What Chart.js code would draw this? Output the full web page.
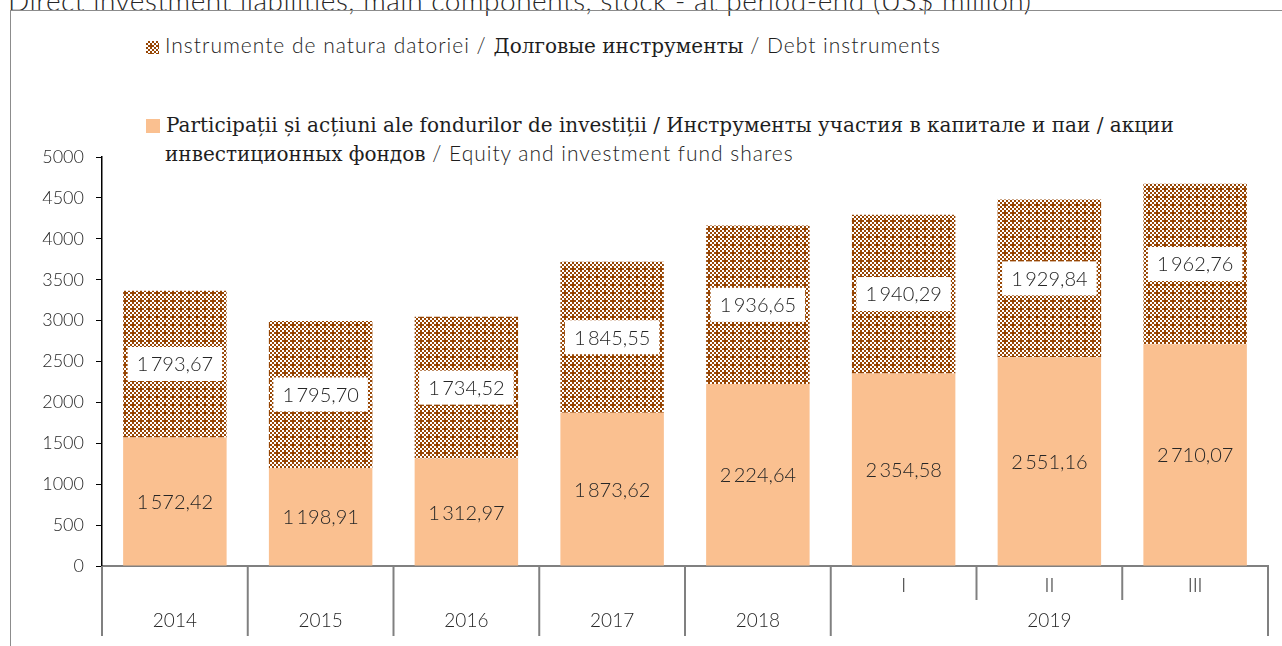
<!DOCTYPE html>
<html>
<head>
<meta charset="utf-8">
<script src="https://cdn.jsdelivr.net/npm/chart.js@4.4.1/dist/chart.umd.min.js"></script>
<style>
  body { margin: 0; width: 1282px; height: 646px; overflow: hidden; background: #fff; position: relative; }
  #title { position: absolute; left: 8px; top: -17px; font: 300 28px Lato, sans-serif; letter-spacing: 0.55px; color: #262626; white-space: nowrap; }
  #frame { position: absolute; left: 10px; top: 10px; width: 1400px; height: 800px; border-left: 1.5px solid #8c8c8c; border-top: 1.5px solid #8c8c8c; }
  #wrap { position: absolute; left: 0; top: 0; width: 1282px; height: 646px; }
  .leg { position: absolute; left: 146px; color: #1e1e1e; white-space: nowrap; line-height: 26px; }
  .sans { font-family: Lato, sans-serif; font-weight: 300; font-size: 21px; letter-spacing: 1px; }
  .serif { font-family: 'DejaVu Serif', serif; font-size: 20px; }
  .sw { display: inline-block; width: 13px; height: 13px; margin-right: 6px; vertical-align: -1px; }
</style>
</head>
<body>
<div id="title">Direct investment liabilities, main components, stock - at period-end (US$ million)</div>
<div id="frame"></div>
<div class="leg" style="top:32px"><canvas class="sw" id="sw1" width="13" height="13"></canvas><span class="sans">Instrumente de natura datoriei / </span><span class="serif">Долговые инструменты</span><span class="sans"> / Debt instruments</span></div>
<div class="leg" style="top:112px"><span class="sw" style="background:#fac090;width:14px;height:14px"></span><span class="serif">Participații și acțiuni ale fondurilor de investiții / Инструменты участия в капитале и паи / акции</span><br><span style="padding-left:19px" class="serif">инвестиционных фондов</span><span class="sans"> / Equity and investment fund shares</span></div>
<div id="wrap"><canvas id="c" width="1282" height="646"></canvas></div>
<script>
// Данные графика
const categories = ['2014', '2015', '2016', '2017', '2018', '2019-I', '2019-II', '2019-III'];
const quarterLabels = ['', '', '', '', '', 'I', 'II', 'III'];
const yearLabels = ['2014', '2015', '2016', '2017', '2018', '2019'];
const yearSpans = [1, 1, 1, 1, 1, 3];
const equity = [1572.42, 1198.91, 1312.97, 1873.62, 2224.64, 2354.58, 2551.16, 2710.07];
const debt = [1793.67, 1795.70, 1734.52, 1845.55, 1936.65, 1940.29, 1929.84, 1962.76];

const brown = '#974604';
const peach = '#fac090';
const textColor = '#262626';
const sansFont = 'Lato, sans-serif';

function makePattern() {
    const p = document.createElement('canvas');
    p.width = 8; p.height = 8;
    const g = p.getContext('2d');
    g.fillStyle = brown;
    g.fillRect(0, 0, 8, 8);
    g.fillStyle = '#ffffff';
    [[0,0],[4,0],[2,2],[6,2],[0,4],[2,6],[6,6]].forEach(([x, y]) => g.fillRect(x, y, 2, 2));
    return p;
}
const tile = makePattern();
const ctx = document.getElementById('c').getContext('2d');
const debtPattern = ctx.createPattern(tile, 'repeat');

// образец в легенде
const sw = document.getElementById('sw1').getContext('2d');
sw.fillStyle = sw.createPattern(tile, 'repeat');
sw.fillRect(0, 0, 13, 13);

function fmt(v) {
    const s = v.toFixed(2).split('.');
    const int = s[0].replace(/\B(?=(\d{3})+(?!\d))/g, '\u2009');
    return int + ',' + s[1];
}

const barLabels = {
    id: 'barLabels',
    afterDatasetsDraw(chart) {
        const c = chart.ctx;
        c.save();
        c.font = '300 20px ' + sansFont;
        c.textAlign = 'center';
        c.textBaseline = 'middle';
        chart.data.datasets.forEach((ds, di) => {
            const meta = chart.getDatasetMeta(di);
            meta.data.forEach((el, i) => {
                const txt = fmt(ds.data[i]);
                const cy = (el.y + el.base) / 2;
                if (di === 1) {
                    const w = c.measureText(txt).width + 18;
                    c.fillStyle = '#fff';
                    c.fillRect(el.x - w / 2, cy - 17, w, 34);
                }
                c.fillStyle = textColor;
                c.fillText(txt, el.x, cy + 1);
            });
        });
        c.restore();
    }
};

const groupAxis = {
    id: 'groupAxis',
    afterDraw(chart) {
        const c = chart.ctx;
        const xs = chart.scales.x;
        const area = chart.chartArea;
        const w = (area.right - area.left) / categories.length;
        c.save();
        c.strokeStyle = '#808080';
        c.lineWidth = 2;
        for (let i = 0; i <= categories.length; i++) {
            const x = area.left + i * w;
            const short = (i === 6 || i === 7);
            c.beginPath();
            c.moveTo(x, area.bottom);
            c.lineTo(x, area.bottom + (short ? 34 : 70));
            c.stroke();
        }
        c.fillStyle = textColor;
        c.font = '300 19px ' + sansFont;
        c.textAlign = 'center';
        c.textBaseline = 'middle';
        quarterLabels.forEach((q, i) => {
            if (q) c.fillText(q, xs.getPixelForValue(i), area.bottom + 20);
        });
        let start = 0;
        yearLabels.forEach((y, k) => {
            const x = area.left + (start + yearSpans[k] / 2) * w;
            c.fillText(y, x, area.bottom + 55);
            start += yearSpans[k];
        });
        c.restore();
    }
};

new Chart(ctx, {
    type: 'bar',
    data: {
        labels: categories,
        datasets: [
            { label: 'Equity and investment fund shares', data: equity, backgroundColor: peach,
              categoryPercentage: 1, barPercentage: 0.71 },
            { label: 'Debt instruments', data: debt, backgroundColor: debtPattern,
              categoryPercentage: 1, barPercentage: 0.71 }
        ]
    },
    options: {
        responsive: false,
        animation: false,
        layout: { padding: { left: 10, top: 157, right: 14, bottom: 0 } },
        plugins: { legend: { display: false }, tooltip: { enabled: false } },
        scales: {
            x: {
                stacked: true,
                ticks: { display: false },
                grid: { display: false },
                border: { color: '#808080', width: 2 },
                afterFit(s) { s.height = 80; }
            },
            y: {
                stacked: true,
                min: 0, max: 5000,
                ticks: { stepSize: 500, color: textColor, font: { family: sansFont, size: 18, weight: 300 }, padding: 12,
                         callback: v => String(v) },
                grid: { drawOnChartArea: false, drawTicks: true, tickLength: 6, color: '#000' },
                border: { color: '#000', width: 1.5 },
                afterFit(s) { s.width = 92; }
            }
        }
    },
    plugins: [barLabels, groupAxis]
});
</script>
</body>
</html>
